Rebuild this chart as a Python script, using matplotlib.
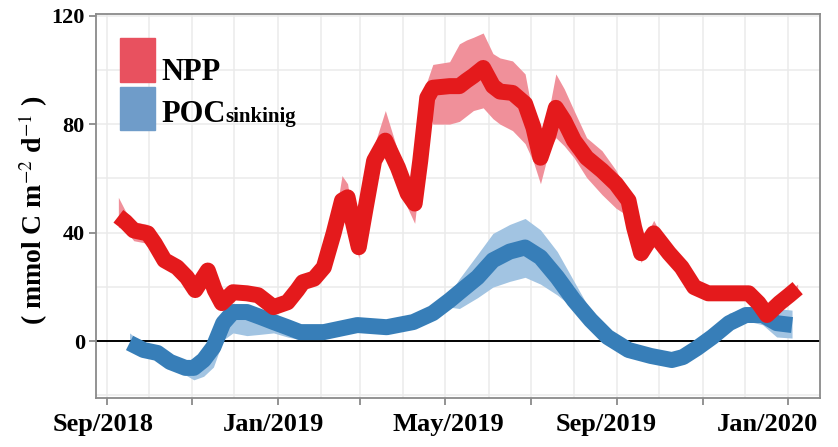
import pandas as pd
import matplotlib
matplotlib.use("Agg")
import matplotlib.pyplot as plt
import matplotlib.dates as mdates
import matplotlib.transforms as mtransforms
from matplotlib.patches import Rectangle
from matplotlib.ticker import MultipleLocator

# NPP: centre line and envelope (mmol C m-2 d-1)
npp_dates = ["2018-09-09", "2018-09-14", "2018-09-20", "2018-09-30", "2018-10-05",
             "2018-10-12", "2018-10-21", "2018-10-28", "2018-11-03", "2018-11-12",
             "2018-11-17", "2018-11-22", "2018-11-30", "2018-12-10", "2018-12-18",
             "2018-12-29", "2019-01-08", "2019-01-15", "2019-01-19", "2019-01-27",
             "2019-02-03", "2019-02-10", "2019-02-16", "2019-02-20", "2019-02-23",
             "2019-02-28", "2019-03-05", "2019-03-11", "2019-03-19", "2019-03-28",
             "2019-04-04", "2019-04-09", "2019-04-13", "2019-04-18", "2019-04-22",
             "2019-05-04", "2019-05-11", "2019-05-16", "2019-05-21", "2019-05-28",
             "2019-06-04", "2019-06-09", "2019-06-18", "2019-06-27", "2019-07-03",
             "2019-07-08", "2019-07-14", "2019-07-19", "2019-07-25", "2019-08-01",
             "2019-08-10", "2019-08-21", "2019-08-31", "2019-09-09", "2019-09-13",
             "2019-09-18", "2019-09-27", "2019-10-08", "2019-10-17", "2019-10-26",
             "2019-11-05", "2019-11-22", "2019-12-04", "2019-12-11", "2019-12-17",
             "2019-12-26", "2020-01-02", "2020-01-08"]
npp = [46, 44, 40.8, 39.7, 36, 29.8, 27.2, 23.5, 18.8, 26,
       18.8, 14, 18, 17.6, 16.9, 12.5, 14.3, 18.8, 21.7, 23,
       27.2, 39.7, 51.8, 53, 45.6, 34.6, 49.3, 66.5, 73.9, 64,
       54.4, 50.7, 66.5, 89.7, 93.4, 94, 94, 96, 97.8, 100.7,
       94, 92, 91.5, 87.5, 78.7, 67.6, 76.5, 86, 81.2, 73.9,
       67.6, 62.9, 58, 51.8, 41.9, 32.4, 39.7, 32.4, 27.2, 19.9,
       17.6, 17.6, 17.6, 14, 9.6, 14, 16.9, 19.5]
npp_lo = [42, 41, 37, 36, 33, 28, 25.5, 22, 17.3, 24.5,
          17.3, 12.5, 16.5, 16, 15.5, 11, 13, 17.3, 20, 21.5,
          25.5, 37, 49, 50, 42, 30.5, 46, 62, 70, 60,
          49, 43.4, 62, 86, 80, 80, 81, 83, 85, 86,
          82, 80, 77.6, 72.8, 66, 58, 70, 75, 72, 67.6,
          60.3, 54, 49, 46, 38, 29, 37, 30, 25.5, 18.3,
          16, 16, 16, 12.5, 8, 12.5, 15.3, 18]
npp_hi = [53, 48, 44, 43, 38, 31.5, 29, 25, 20.3, 27.5,
          20.3, 15.5, 19.5, 19, 19, 14, 15.8, 20.3, 23, 24.5,
          29, 42, 61, 58, 48, 37, 52, 72, 85, 70,
          57, 53, 70, 96, 102, 103, 109.6, 111, 112, 113.6,
          106, 104.4, 103.3, 98.5, 82, 70, 85, 98.5, 93, 85,
          75, 70.2, 63, 54, 45, 35, 44.5, 34, 29, 21.5,
          19, 19, 19.5, 16, 11.5, 15.5, 18.5, 21]

# sinking POC flux
poc_dates = ["2018-09-17", "2018-09-27", "2018-10-07", "2018-10-16", "2018-10-27",
             "2018-11-02", "2018-11-09", "2018-11-16", "2018-11-23", "2018-11-30",
             "2018-12-10", "2018-12-20", "2018-12-29", "2019-01-08", "2019-01-17",
             "2019-02-03", "2019-02-27", "2019-03-20", "2019-04-08", "2019-04-22",
             "2019-05-04", "2019-05-11", "2019-05-24", "2019-06-04", "2019-06-16",
             "2019-06-27", "2019-07-08", "2019-07-20", "2019-08-01", "2019-08-13",
             "2019-08-25", "2019-09-09", "2019-09-25", "2019-10-10", "2019-10-18",
             "2019-10-28", "2019-11-08", "2019-11-20", "2019-12-02", "2019-12-14",
             "2019-12-24", "2020-01-04"]
poc = [-0.7, -3.3, -4.4, -7.7, -9.9, -9.9, -7, -2.2, 6.6, 10.7,
       10.7, 8.8, 7, 5.1, 3.3, 3.3, 5.9, 5.1, 7, 10.3,
       15, 18, 23.5, 29.8, 33, 34.5, 30.9, 23.5, 15, 7.7,
       1.5, -3.3, -5.5, -7, -5.9, -2.6, 1.5, 6.6, 9.6, 9.6,
       6.6, 5.9]
poc_lo = [-3, -5, -6, -9.5, -12.5, -14.3, -13, -9.6, 0.4, 3,
          2, 2.5, 3, 1.5, 0.5, 1, 4, 3.5, 5, 8.5,
          12.5, 12, 16, 19.9, 22, 23.5, 21, 17, 12, 6,
          0, -5, -7.5, -8.8, -7.5, -4, 0, 5, 7.5, 6,
          1.5, 1.1]
poc_hi = [3, -1, -2.5, -6, -8, -8, -5.5, -1, 8, 12,
          12, 10, 8.5, 6.5, 4.5, 4.5, 7, 6.5, 8.5, 12,
          17.5, 23, 32, 39.7, 43, 45.2, 41, 33, 22, 11,
          3, -2, -4.5, -5.5, -4.5, -1, 3, 10.3, 12, 12.5,
          12, 11.4]

yticks = [0, 40, 80, 120]

plt.rcParams['font.family'] = ['Liberation Serif', 'DejaVu Serif']
plt.rcParams['mathtext.fontset'] = 'stix'

W, H = 838, 447
fig = plt.figure(figsize=(W / 100, H / 100), dpi=100)
ax = fig.add_axes([96 / W, 1 - 398 / H, (820 - 96) / W, (398 - 14) / H])

red, red_band, red_key = '#e41a1c', '#f0909a', '#e8515f'
blue, blue_band, blue_key = '#377eb8', '#a2c4e2', '#6f9cc9'

t_npp = pd.to_datetime(npp_dates)
t_poc = pd.to_datetime(poc_dates)

# monthly vertical grid, 20-unit horizontal grid
for m in pd.date_range("2018-08-01", "2020-02-01", freq="MS"):
    ax.axvline(m, color='#ebebeb', lw=1.1, zorder=0)
ax.yaxis.set_minor_locator(MultipleLocator(20))
ax.grid(True, axis='y', which='both', color='#ebebeb', lw=1.1, zorder=0)
ax.set_axisbelow(True)

ax.fill_between(t_npp, npp_lo, npp_hi, color=red_band, lw=0, zorder=1)
ax.fill_between(t_poc, poc_lo, poc_hi, color=blue_band, lw=0, zorder=1)
ax.axhline(0, color='black', lw=1.4, zorder=2)
ax.plot(t_poc, poc, color=blue, lw=11.5, solid_joinstyle='round',
        solid_capstyle='butt', zorder=3)
ax.plot(t_npp, npp, color=red, lw=11.5, solid_joinstyle='round',
        solid_capstyle='butt', zorder=4)

ax.set_xlim(pd.Timestamp("2018-08-24"), pd.Timestamp("2020-01-24"))
ax.set_ylim(-21, 120.6)

ax.xaxis.set_major_locator(mdates.MonthLocator(bymonth=[1, 5, 9]))
ax.xaxis.set_major_formatter(mdates.DateFormatter('%b/%Y'))
ax.xaxis.set_minor_locator(mdates.MonthLocator(bymonth=[3, 7, 11]))
ax.set_yticks(yticks)

for s in ax.spines.values():
    s.set_color('#8a8a8a')
    s.set_linewidth(1.3)
ax.tick_params(axis='both', which='major', color='#8a8a8a', width=1.3, length=5)
ax.tick_params(axis='x', which='minor', color='#8a8a8a', width=1.3, length=5)
ax.tick_params(axis='y', which='minor', length=0)
ax.tick_params(axis='x', labelsize=19, pad=6)
ax.tick_params(axis='y', labelsize=16, pad=3)
for lab in ax.get_xticklabels() + ax.get_yticklabels():
    lab.set_fontweight('bold')

# date labels sit slightly left of their ticks towards the right end
fig.canvas.draw()
shifts = [-4, -4, 3, -11, -20]
for lab, dx in zip(ax.get_xticklabels(), shifts):
    lab.set_transform(lab.get_transform() +
                      mtransforms.ScaledTranslation(dx / 100, 0, fig.dpi_scale_trans))

fig.text(33 / W, 1 - 210 / H, r"( mmol C m$^{-2}$ d$^{-1}$ )", rotation=90,
         ha='center', va='center', fontsize=20, fontweight='bold')

# legend keys and labels
fig.patches.append(Rectangle((120 / W, 1 - 82 / H), 35 / W, 44 / H,
                             transform=fig.transFigure, color=red_key, zorder=5))
fig.patches.append(Rectangle((120 / W, 1 - 130 / H), 35 / W, 43 / H,
                             transform=fig.transFigure, color=blue_key, zorder=5))
fig.text(161 / W, 1 - 80 / H, "NPP", fontsize=22, fontweight='bold',
         ha='left', va='baseline')
poc_txt = fig.text(161 / W, 1 - 122 / H, "POC", fontsize=22, fontweight='bold',
                   ha='left', va='baseline')
fig.canvas.draw()
bb = poc_txt.get_window_extent()
fig.text(bb.x1 / W, 1 - 122 / H, "sinkinig", fontsize=15, fontweight='bold',
         ha='left', va='baseline')

fig.savefig("out.png", dpi=100)
